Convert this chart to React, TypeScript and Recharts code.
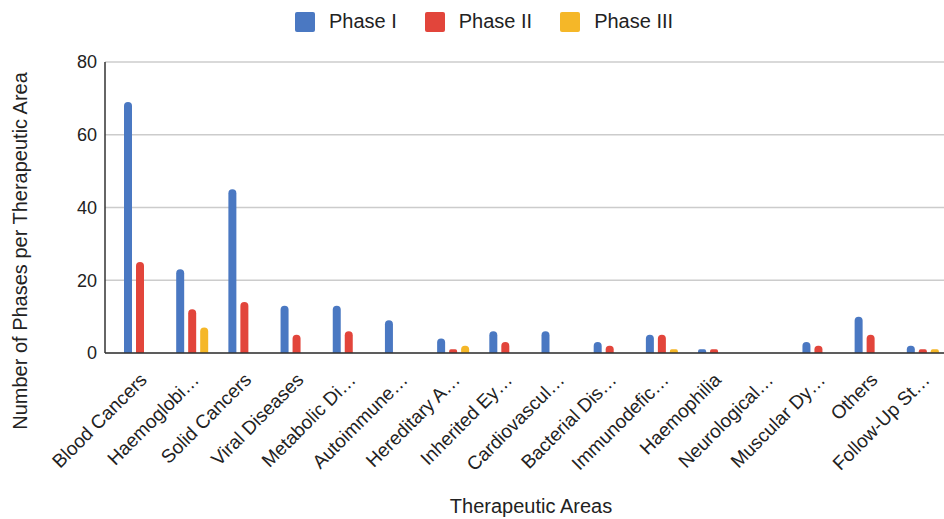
import { BarChart, Bar, XAxis, YAxis, CartesianGrid, Legend, Label } from 'recharts'

const areas = [
  'Blood Cancers',
  'Haemoglobi…',
  'Solid Cancers',
  'Viral Diseases',
  'Metabolic Di…',
  'Autoimmune…',
  'Hereditary A…',
  'Inherited Ey…',
  'Cardiovascul…',
  'Bacterial Dis…',
  'Immunodefic…',
  'Haemophilia',
  'Neurological…',
  'Muscular Dy…',
  'Others',
  'Follow-Up St…',
]

const phase1 = [69, 23, 45, 13, 13, 9, 4, 6, 6, 3, 5, 1, 0, 3, 10, 2]
const phase2 = [25, 12, 14, 5, 6, 0, 1, 3, 0, 2, 5, 1, 0, 2, 5, 1]
const phase3 = [0, 7, 0, 0, 0, 0, 2, 0, 0, 0, 1, 0, 0, 0, 0, 1]

const yTicks = [0, 20, 40, 60, 80]

const SERIES = [
  { key: 'p1', name: 'Phase I', color: '#4a78c2' },
  { key: 'p2', name: 'Phase II', color: '#e2453b' },
  { key: 'p3', name: 'Phase III', color: '#f5b728' },
]

const FONT = '"Liberation Sans", Arial, sans-serif'

const data = areas.map((area, i) => ({
  area,
  p1: phase1[i],
  p2: phase2[i],
  p3: phase3[i],
}))

function AreaTick({ x, y, payload }: any) {
  return (
    <g transform={`translate(${x + 8},${y + 20})`}>
      <text
        textAnchor="end"
        transform="rotate(-45)"
        fontSize={19}
        fontFamily={FONT}
        fill="#222"
      >
        {payload.value}
      </text>
    </g>
  )
}

function LegendRow() {
  return (
    <div
      style={{
        display: 'flex',
        justifyContent: 'center',
        paddingLeft: 52,
        fontFamily: FONT,
        fontSize: 20,
        color: '#222',
      }}
    >
      {SERIES.map((s) => (
        <div key={s.key} style={{ display: 'flex', alignItems: 'center', marginRight: 28 }}>
          <span
            style={{
              width: 20,
              height: 20,
              borderRadius: 2,
              background: s.color,
              marginRight: 14,
              display: 'inline-block',
            }}
          />
          {s.name}
        </div>
      ))}
    </div>
  )
}

function YTitle() {
  return (
    <text
      x={0}
      y={0}
      transform="translate(27,251) rotate(-90)"
      textAnchor="middle"
      fontSize={20}
      fontFamily={FONT}
      fill="#222"
    >
      Number of Phases per Therapeutic Area
    </text>
  )
}

export default function App() {
  return (
    <div style={{ width: 944, height: 519, background: '#fff' }}>
      <style>{`body{margin:0}`}</style>
      <BarChart
        width={944}
        height={519}
        data={data}
        margin={{ top: 39, right: -5, left: 0, bottom: 0 }}
        barSize={8}
        barGap={4}
      >
        <CartesianGrid vertical={false} stroke="#cccccc" strokeWidth={1.5} />
        <Legend verticalAlign="top" content={<LegendRow />} wrapperStyle={{ top: 10, left: 0, width: 944 }} />
        <XAxis
          dataKey="area"
          interval={0}
          height={166}
          tickLine={false}
          axisLine={{ stroke: '#333', strokeWidth: 1.5 }}
          tick={<AreaTick />}
          padding={{ left: 9, right: 0 }}
        >
          <Label
            value="Therapeutic Areas"
            position="insideBottom"
            offset={6}
            dx={4}
            style={{ fontSize: 20, fontFamily: FONT, fill: '#222' }}
          />
        </XAxis>
        <YAxis
          width={105}
          domain={[0, 80]}
          ticks={yTicks}
          tickLine={false}
          tickSize={0}
          tickMargin={8}
          axisLine={{ stroke: '#333', strokeWidth: 1.5 }}
          tick={{ fontSize: 18, fontFamily: FONT, fill: '#222' }}
        >
          <Label content={<YTitle />} />
        </YAxis>
        {SERIES.map((s) => (
          <Bar
            key={s.key}
            dataKey={s.key}
            name={s.name}
            fill={s.color}
            radius={[4, 4, 0, 0]}
            isAnimationActive={false}
          />
        ))}
      </BarChart>
    </div>
  )
}
